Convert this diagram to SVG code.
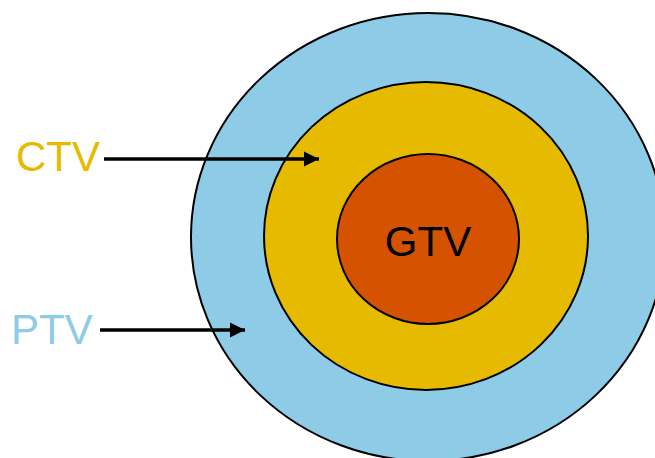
<svg xmlns="http://www.w3.org/2000/svg" width="655" height="458" viewBox="0 0 655 458">
  <defs>
    <marker id="arrow" viewBox="0 0 10 10" refX="10" refY="5" markerWidth="4.4" markerHeight="4.4" markerUnits="strokeWidth" orient="auto">
      <path d="M0,0 L10,5 L0,10 z" fill="#000"/>
    </marker>
  </defs>
  <style>
    .ring { stroke: #000; stroke-width: 2; }
    .label { font-family: "Liberation Sans", Arial, sans-serif; font-size: 42px; }
    .pointer { stroke: #000; stroke-width: 3.5; fill: none; marker-end: url(#arrow); }
  </style>
  <rect width="655" height="458" fill="#fff"/>
  <g id="ptv">
    <ellipse class="ring" cx="428" cy="237" rx="237" ry="224" fill="#8DCBE6"/>
  </g>
  <g id="ctv">
    <ellipse class="ring" cx="426" cy="236" rx="162" ry="154" fill="#E6BA00"/>
  </g>
  <g id="gtv">
    <ellipse class="ring" cx="428" cy="239" rx="91" ry="85" fill="#D55300"/>
    <text class="label" x="428" y="256" text-anchor="middle" fill="#000">GTV</text>
  </g>
  <g id="ctv-label">
    <text class="label" x="16" y="171" fill="#E6BA00">CTV</text>
  </g>
  <g id="ptv-label">
    <text class="label" x="11" y="344" fill="#8DCBE6">PTV</text>
  </g>
  <g id="connectors">
    <line class="pointer" x1="104" y1="159" x2="319" y2="159"/>
    <line class="pointer" x1="100" y1="330" x2="245" y2="330"/>
  </g>
</svg>
